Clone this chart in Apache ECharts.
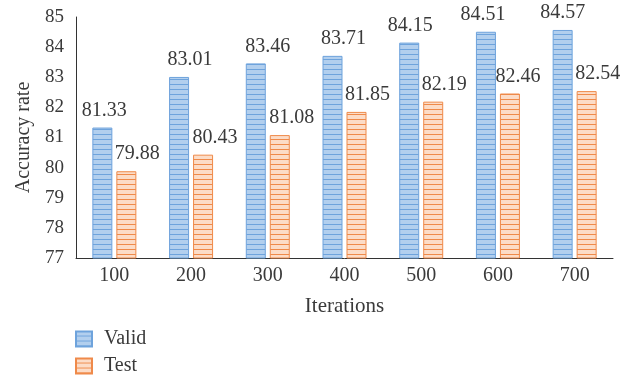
<!DOCTYPE html>
<html>
<head>
<meta charset="utf-8">
<script src="https://cdn.jsdelivr.net/npm/echarts@6/dist/echarts.min.js"></script>
<style>
  html, body { margin: 0; padding: 0; background: #fff; }
  #chart { width: 624px; height: 381px; }
</style>
</head>
<body>
<div id="chart"></div>
<script>
const categories = ['100', '200', '300', '400', '500', '600', '700'];
const validValues = [81.33, 83.01, 83.46, 83.71, 84.15, 84.51, 84.57];
const testValues = [79.88, 80.43, 81.08, 81.85, 82.19, 82.46, 82.54];
const yTicks = [77, 78, 79, 80, 81, 82, 83, 84, 85];

// Horizontal nudges (px) so neighbouring value labels do not collide
const validLabelShift = [2, 11, 12, 11, 1, -3, 0];
const testLabelShift = [11, 12, 12, 11, 11, 8, 11];

// Horizontal hatch fill: light background with thin stripes
function stripePattern(bg, line, period) {
  const c = document.createElement('canvas');
  c.width = 8;
  c.height = period;
  const ctx = c.getContext('2d');
  ctx.fillStyle = bg;
  ctx.fillRect(0, 0, c.width, c.height);
  ctx.fillStyle = line;
  ctx.fillRect(0, period - 1, c.width, 1);
  return { image: c, repeat: 'repeat' };
}

const FONT = '"Liberation Serif", "DejaVu Serif", serif';
const TEXT = '#3a3a3a';
const BLUE_LINE = '#6ea3dc';
const ORANGE_LINE = '#ef8a4a';

const chart = echarts.init(document.getElementById('chart'), null, { renderer: 'canvas' });

function labelled(values, shifts) {
  return values.map((v, i) => ({ value: v, label: { offset: [shifts[i], 0] } }));
}

const labelCfg = {
  show: true,
  position: 'top',
  distance: 7,
  fontFamily: FONT,
  fontSize: 20,
  color: TEXT,
  formatter: p => p.value.toFixed(2)
};

// One legend block per series, stacked vertically under the axis
function legendRow(name, top) {
  return {
    left: 75,
    top: top,
    padding: 0,
    itemWidth: 16,
    itemHeight: 15,
    icon: 'rect',
    textStyle: { fontFamily: FONT, fontSize: 20, color: TEXT, padding: [0, 0, 0, 7] },
    data: [name]
  };
}

chart.setOption({
  animation: false,
  grid: { left: 76, right: 11, top: 17, bottom: 123 },
  legend: [legendRow('Valid', 329), legendRow('Test', 356)],
  xAxis: {
    type: 'category',
    data: categories,
    name: 'Iterations',
    nameLocation: 'middle',
    nameGap: 38,
    nameTextStyle: { fontFamily: FONT, fontSize: 21, color: TEXT },
    axisLine: { lineStyle: { color: '#333', width: 1 } },
    axisTick: { show: false },
    axisLabel: { fontFamily: FONT, fontSize: 20, color: TEXT, margin: 8 }
  },
  yAxis: {
    type: 'value',
    min: yTicks[0],
    max: yTicks[yTicks.length - 1],
    interval: 1,
    name: 'Accuracy rate',
    nameLocation: 'middle',
    nameGap: 41,
    nameRotate: 90,
    nameTextStyle: { fontFamily: FONT, fontSize: 20, color: TEXT },
    axisLine: { show: true, lineStyle: { color: '#333', width: 1 } },
    axisTick: { show: false },
    splitLine: { show: false },
    axisLabel: { fontFamily: FONT, fontSize: 19, color: TEXT, margin: 12 }
  },
  series: [
    {
      name: 'Valid',
      type: 'bar',
      data: labelled(validValues, validLabelShift),
      barWidth: 20,
      barGap: '20%',
      itemStyle: {
        color: stripePattern('#b2cfee', BLUE_LINE, 5),
        borderColor: BLUE_LINE,
        borderWidth: 1
      },
      label: labelCfg
    },
    {
      name: 'Test',
      type: 'bar',
      data: labelled(testValues, testLabelShift),
      barWidth: 20,
      itemStyle: {
        color: stripePattern('#fcdcc7', ORANGE_LINE, 5),
        borderColor: ORANGE_LINE,
        borderWidth: 1
      },
      label: labelCfg
    }
  ]
});
</script>
</body>
</html>
